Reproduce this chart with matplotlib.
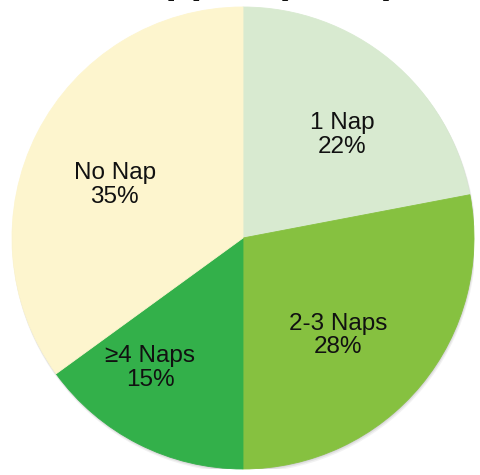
"""Répartition des siestes : camembert à quatre parts, titre en tête de figure."""

import matplotlib

matplotlib.use("Agg")
import matplotlib.pyplot as plt
import numpy as np
from matplotlib.patches import Circle

# Données
categories = ["1 Nap", "2-3 Naps", "\u22654 Naps", "No Nap"]
shares = [22, 28, 15, 35]
colors = ["#D8EAD0", "#86C140", "#33B04A", "#FDF5CE"]

# Position des étiquettes (angle en degrés, rayon relatif)
label_pos = [(46.0, 0.62), (-45.6, 0.59), (-125.5, 0.69), (157.6, 0.60)]

TITLE = "Napped (n=52)"

plt.rcParams["font.family"] = ["Liberation Sans", "DejaVu Sans"]

fig = plt.figure(figsize=(4.81, 4.75), dpi=100)
ax = fig.add_axes([12 / 481, 6 / 475, 462 / 481, 462 / 475])
ax.set_xlim(-1, 1)
ax.set_ylim(-1, 1)
ax.axis("off")

# ombre légère sous le disque
for k, alpha in enumerate([0.10, 0.14, 0.20]):
    off = 0.012 - 0.004 * k
    ax.add_patch(Circle((off * 0.4, -off), 1.0 + 0.002 * (2 - k), color="#808080",
                        alpha=alpha, lw=0, zorder=0))

wedges, _ = ax.pie(
    shares,
    colors=colors,
    startangle=90,
    counterclock=False,
    radius=1.0,
    wedgeprops=dict(linewidth=0.6),
    frame=True,
)
for w, c in zip(wedges, colors):
    w.set_edgecolor(c)
    w.set_zorder(2)
ax.set_xlim(-1, 1)
ax.set_ylim(-1, 1)
ax.set_aspect("auto")
ax.axis("off")

for name, val, (ang, r) in zip(categories, shares, label_pos):
    t = np.deg2rad(ang)
    ax.text(r * np.cos(t), r * np.sin(t), f"{name}\n{val}%", ha="center", va="center",
            fontsize=17.5, color="#111111", linespacing=1.1, zorder=3)

# titre rogné par le haut de la figure
fig.text(396 / 481, 1 + 7 / 475, TITLE, ha="right", va="baseline",
         fontsize=29.5, fontweight="bold", color="#111111")

fig.savefig("out.png", dpi=100)
